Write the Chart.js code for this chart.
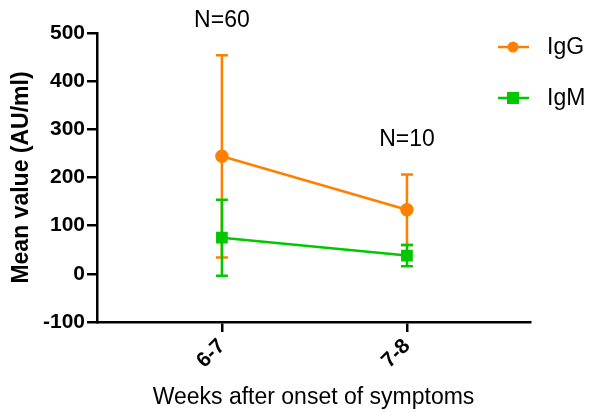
<!DOCTYPE html>
<html lang="en">
<head>
    <meta charset="UTF-8">
    <title>Mean value by weeks after onset</title>
    <script src="https://cdn.jsdelivr.net/npm/chart.js"></script>
    <style>
        html, body { margin: 0; padding: 0; background: #fff; }
        #wrap { width: 589px; height: 412px; }
    </style>
</head>
<body>
    <div id="wrap"><canvas id="grafico" width="589" height="412"></canvas></div>

    <script>
        // data
        const categories = ["6-7", "7-8"];
        const groupN = ["N=60", "N=10"];
        const igG = [244, 133];
        const igGsd = [210, 73];
        const igM = [75, 38];
        const igMsd = [79, 22];
        const yTicks = [-100, 0, 100, 200, 300, 400, 500];

        const ORANGE = "#FF8000";
        const GREEN = "#00C800";
        const FONT = "'Liberation Sans', Arial, Helvetica, sans-serif";

        // error bars, N labels and the legend, drawn with the chart's own scales
        const extras = {
            id: "extras",
            beforeDatasetsDraw(chart) {
                const ctx = chart.ctx;
                const xs = chart.scales.x, ys = chart.scales.y;
                chart.data.datasets.forEach((ds) => {
                    ctx.save();
                    ctx.strokeStyle = ds.borderColor;
                    ctx.lineWidth = 2.5;
                    ds.data.forEach((p, i) => {
                        const x = xs.getPixelForValue(p.x);
                        const top = ys.getPixelForValue(p.y + ds.errors[i]);
                        const bot = ys.getPixelForValue(p.y - ds.errors[i]);
                        ctx.beginPath();
                        ctx.moveTo(x, top); ctx.lineTo(x, bot);
                        ctx.moveTo(x - 6, top); ctx.lineTo(x + 6, top);
                        ctx.moveTo(x - 6, bot); ctx.lineTo(x + 6, bot);
                        ctx.stroke();
                    });
                    ctx.restore();
                });
            },
            afterDatasetsDraw(chart) {
                const ctx = chart.ctx;
                const xs = chart.scales.x, ys = chart.scales.y;
                ctx.save();
                ctx.fillStyle = "#000";
                ctx.font = "23px " + FONT;
                ctx.textAlign = "center";
                ctx.textBaseline = "middle";
                categories.forEach((c, i) => {
                    let top = -Infinity;
                    chart.data.datasets.forEach((ds) => {
                        top = Math.max(top, ds.data[i].y + ds.errors[i]);
                    });
                    ctx.fillText(groupN[i], xs.getPixelForValue(i), ys.getPixelForValue(top) - 35);
                });

                // legend
                ctx.textAlign = "left";
                chart.data.datasets.forEach((ds, k) => {
                    const y = 47 + k * 51;
                    ctx.strokeStyle = ds.borderColor;
                    ctx.fillStyle = ds.borderColor;
                    ctx.lineWidth = 2.5;
                    ctx.beginPath();
                    ctx.moveTo(498, y); ctx.lineTo(529, y);
                    ctx.stroke();
                    if (ds.pointStyle === "rect") {
                        ctx.fillRect(513 - 6, y - 6, 12, 12);
                    } else {
                        ctx.beginPath();
                        ctx.arc(513, y, 5.5, 0, Math.PI * 2);
                        ctx.fill();
                    }
                    ctx.fillStyle = "#000";
                    ctx.fillText(ds.label, 547, y + 1);
                });
                ctx.restore();
            }
        };

        const ctx = document.getElementById("grafico").getContext("2d");

        new Chart(ctx, {
            type: "line",
            data: {
                datasets: [
                    {
                        label: "IgG",
                        data: igG.map((v, i) => ({ x: i, y: v })),
                        errors: igGsd,
                        borderColor: ORANGE,
                        backgroundColor: ORANGE,
                        borderWidth: 2.5,
                        pointStyle: "circle",
                        pointRadius: 5.5,
                        pointHoverRadius: 5.5,
                        tension: 0
                    },
                    {
                        label: "IgM",
                        data: igM.map((v, i) => ({ x: i, y: v })),
                        errors: igMsd,
                        borderColor: GREEN,
                        backgroundColor: GREEN,
                        borderWidth: 2.5,
                        pointStyle: "rect",
                        pointRadius: 6.5,
                        pointHoverRadius: 6.5,
                        tension: 0
                    }
                ]
            },
            options: {
                responsive: false,
                animation: false,
                events: [],
                layout: {
                    autoPadding: false,
                    padding: { left: 0, top: 33, right: 59, bottom: 0 }
                },
                plugins: {
                    legend: { display: false },
                    tooltip: { enabled: false }
                },
                scales: {
                    x: {
                        type: "linear",
                        min: -0.675,
                        max: 1.665,
                        afterBuildTicks: (s) => { s.ticks = categories.map((c, i) => ({ value: i })); },
                        afterFit: (s) => { s.height = 90; },
                        ticks: {
                            callback: (v) => categories[v],
                            minRotation: 45,
                            maxRotation: 45,
                            padding: 2,
                            color: "#000",
                            font: { family: FONT, size: 21, weight: "bold" }
                        },
                        grid: { drawOnChartArea: false, drawTicks: true, tickLength: 10, color: "#000", lineWidth: 2.5 },
                        border: { color: "#000", width: 2.5 },
                        title: {
                            display: true,
                            text: "Weeks after onset of symptoms",
                            color: "#000",
                            padding: { top: 0, bottom: 1 },
                            font: { family: FONT, size: 23 }
                        }
                    },
                    y: {
                        min: -100,
                        max: 500,
                        afterBuildTicks: (s) => { s.ticks = yTicks.map((v) => ({ value: v })); },
                        afterFit: (s) => { s.width = 97; },
                        ticks: {
                            padding: 2,
                            color: "#000",
                            font: { family: FONT, size: 21, weight: "bold" }
                        },
                        grid: { drawOnChartArea: false, drawTicks: true, tickLength: 10, color: "#000", lineWidth: 2.5 },
                        border: { color: "#000", width: 2.5 },
                        title: {
                            display: true,
                            text: "Mean value (AU/ml)",
                            color: "#000",
                            padding: { top: 8, bottom: 0 },
                            font: { family: FONT, size: 23, weight: "bold" }
                        }
                    }
                }
            },
            plugins: [extras]
        });
    </script>
</body>
</html>
